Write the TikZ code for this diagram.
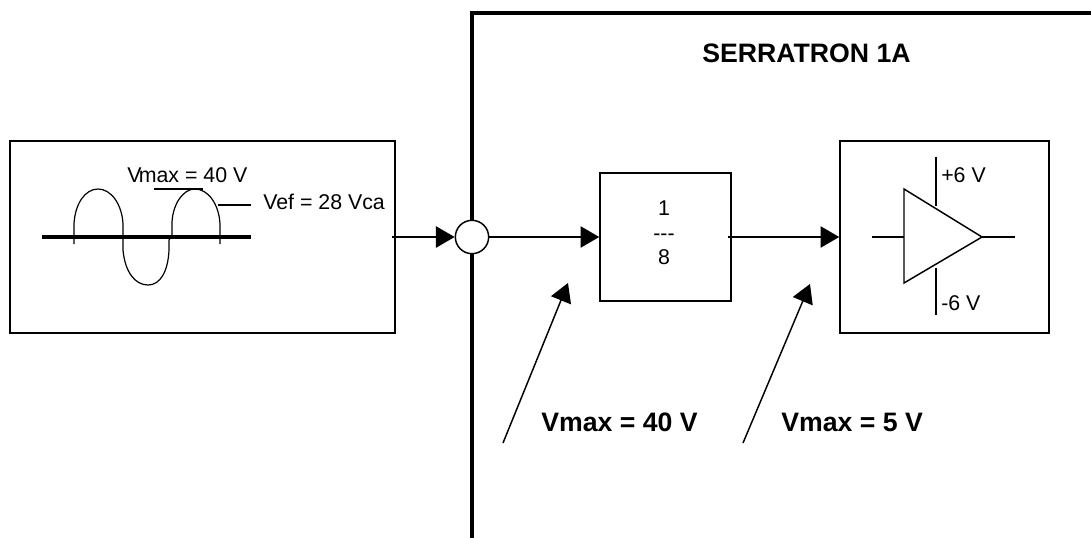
\documentclass[tikz,border=0pt]{standalone}
\usepackage{fontspec}
\setmainfont{Liberation Sans}
\usetikzlibrary{arrows.meta}
\tikzset{
    block/.style={draw, line width=1.2pt, inner sep=0pt},
    wire/.style={line width=1.1pt},
    sig/.style={wire, -{Triangle[length=14pt,width=16pt]}},
    thin wave/.style={line width=0.9pt},
    lbl/.style={inner sep=0pt, font=\fontsize{16}{18}\selectfont},
    boldlbl/.style={inner sep=0pt, font=\fontsize{20}{22}\selectfont\bfseries}
}
\begin{document}
\begin{tikzpicture}[x=0.75pt,y=-0.75pt]
        \useasboundingbox (0,0) rectangle (1091,538);

        %wall of the unit
        \draw [line width=2.4pt] (472,538) -- (472,13) -- (1091,13);

        %blocks
        \node [block, minimum width=288.75pt, minimum height=144pt] (source) at (202.5,237) {};
        \node [block, minimum width=98.25pt, minimum height=96pt] (divider) at (665.5,237) {};
        \node [block, minimum width=156.75pt, minimum height=144pt] (ampbox) at (944.5,237) {};
        \node [draw, circle, fill=white, wire, minimum size=25pt, inner sep=0pt] (entry) at (472,237) {};

        %sine
        \draw [line width=3.4pt] (42,237) -- (251,237);
        \draw [thin wave] (74,244) -- (74,224) .. controls (75,204) and (85,189) .. (98,189)
            .. controls (111,189) and (122,204) .. (123,224) -- (123,250)
            .. controls (125,272) and (135,285) .. (148,285)
            .. controls (160,285) and (168,272) .. (169,250) -- (169,240) -- (172,235) -- (172,222)
            .. controls (173,204) and (183,189) .. (195,189)
            .. controls (208,189) and (219,204) .. (220,224) -- (220,244);
        \draw [wire] (154,189) -- (203,189);
        \draw [wire] (218,205) -- (251,205);
        \node [lbl, anchor=west] (vmaxsine) at (127,175) {V\kern-2pt max = 40 V};
        \node [lbl, anchor=west] (vefsine) at (263,202) {Vef = 28 Vca};

        %amplifier
        \coordinate (ampa) at (904,189);
        \coordinate (ampb) at (904,283);
        \coordinate (ampc) at (982,237);
        \coordinate (ampin) at (872,237);
        \coordinate (ampout) at (1015,237);
        \coordinate (plustop) at (936,157);
        \coordinate (plusend) at (936,206);
        \coordinate (minustop) at (936,268);
        \coordinate (minusend) at (936,315);
        \draw [wire] (ampa) -- (ampc) -- (ampb) -- cycle;
        \draw [wire] (ampin) -- (ampa |- ampin);
        \draw [wire] (ampc) -- (ampout);
        \draw [wire] (plustop) -- (plusend);
        \draw [wire] (minustop) -- (minusend);
        \node [lbl, anchor=west] (plussix) at (941,175) {+6 V};
        \node [lbl, anchor=west] (minussix) at (941,303) {-6 V};

        %divider text
        \node [lbl] (one) at (664,208) {1};
        \node [lbl] (dash) at (664,237) {-{}-{}-};
        \node [lbl] (eight) at (664,257) {8};

        %signal path
        \coordinate (srcout) at (392,237);
        \coordinate (divout) at (728,237);
        \draw [sig] (srcout) -- (entry.west);
        \draw [sig] (entry.east) -- (divider.west);
        \draw [sig] (divout) -- (ampbox.west);

        %pointers
        \coordinate (pointa) at (503,443);
        \coordinate (tipa) at (568,283);
        \coordinate (pointb) at (743,443);
        \coordinate (tipb) at (810,284);
        \draw [sig] (pointa) -- (tipa);
        \draw [sig] (pointb) -- (tipb);

        \node [boldlbl, anchor=west] (title) at (702,53) {SERRATRON 1A};
        \node [boldlbl, anchor=west] (vmaxin) at (541,422) {Vmax = 40 V};
        \node [boldlbl, anchor=west] (vmaxout) at (781,422) {Vmax = 5 V};
    \end{tikzpicture}
\end{document}
